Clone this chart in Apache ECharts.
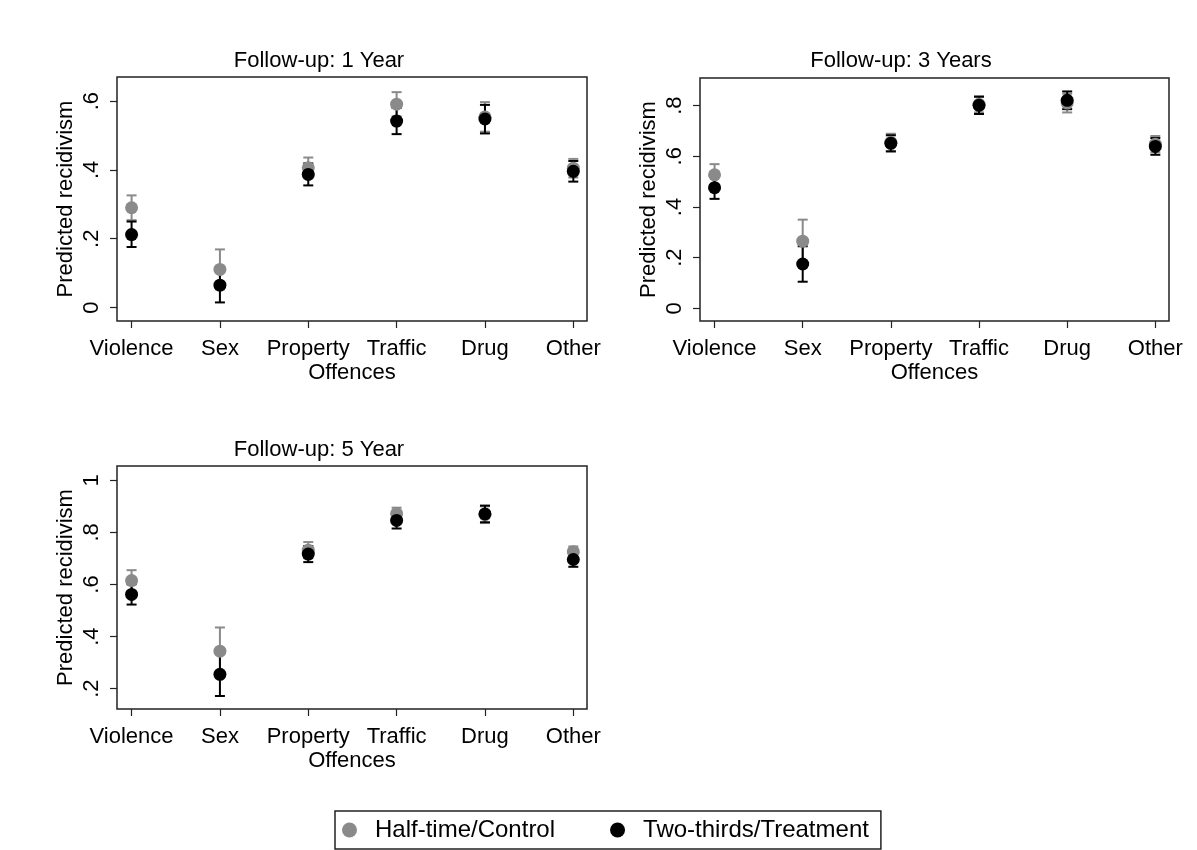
<!DOCTYPE html>
<html>
<head>
<meta charset="utf-8">
<script src="https://cdn.jsdelivr.net/npm/echarts@6/dist/echarts.min.js"></script>
<style>
  html, body { margin: 0; padding: 0; background: #fff; }
  #chart { width: 1197px; height: 850px; }
</style>
</head>
<body>
<div id="chart"></div>
<script>
// offence categories (x axis)
var offences = ['Violence', 'Sex', 'Property', 'Traffic', 'Drug', 'Other'];

// Follow-up: 1 Year
var ctrl1 = [0.290, 0.111, 0.406, 0.591, 0.554, 0.405];
var ctrl1Lo = [0.254, 0.053, 0.376, 0.556, 0.511, 0.378];
var ctrl1Hi = [0.326, 0.169, 0.436, 0.626, 0.597, 0.432];
var treat1 = [0.212, 0.065, 0.387, 0.542, 0.548, 0.396];
var treat1Lo = [0.176, 0.015, 0.355, 0.504, 0.506, 0.366];
var treat1Hi = [0.250, 0.115, 0.419, 0.580, 0.589, 0.426];

// Follow-up: 3 Years
var ctrl3 = [0.527, 0.265, 0.655, 0.805, 0.810, 0.648];
var ctrl3Lo = [0.485, 0.180, 0.621, 0.773, 0.773, 0.616];
var ctrl3Hi = [0.569, 0.350, 0.689, 0.837, 0.847, 0.680];
var treat3 = [0.476, 0.175, 0.651, 0.801, 0.821, 0.639];
var treat3Lo = [0.432, 0.105, 0.619, 0.767, 0.786, 0.606];
var treat3Hi = [0.520, 0.245, 0.683, 0.835, 0.856, 0.672];

// Follow-up: 5 Year
var ctrl5 = [0.615, 0.344, 0.732, 0.872, 0.868, 0.726];
var ctrl5Lo = [0.575, 0.253, 0.701, 0.849, 0.836, 0.706];
var ctrl5Hi = [0.655, 0.435, 0.763, 0.895, 0.900, 0.746];
var treat5 = [0.562, 0.255, 0.717, 0.846, 0.871, 0.696];
var treat5Lo = [0.523, 0.172, 0.686, 0.815, 0.839, 0.668];
var treat5Hi = [0.601, 0.338, 0.748, 0.877, 0.903, 0.724];

// y tick labels per panel
var yTicks1 = [0, 0.2, 0.4, 0.6];
var yTicks3 = [0, 0.2, 0.4, 0.6, 0.8];
var yTicks5 = [0.2, 0.4, 0.6, 0.8, 1];

var panelTitles = ['Follow-up: 1 Year', 'Follow-up: 3 Years', 'Follow-up: 5 Year'];
var seriesNames = ['Half-time/Control', 'Two-thirds/Treatment'];

var FONT = 'Liberation Sans, Arial, sans-serif';
var GRAY = '#8a8a8a';
var BLACK = '#000';

var myChart = echarts.init(document.getElementById('chart'));

function fmtTick(v){
	if(v === 0) return '0';
	if(v === 1) return '1';
	return String(+v.toFixed(2)).replace('0.', '.');
}

function xAxisFor(idx){
	return {
		type: 'value', gridIndex: idx, min: 0.835, max: 6.155,
		name: 'Offences', nameLocation: 'middle', nameGap: 41,
		nameTextStyle: {fontFamily: FONT, fontSize: 22, color: '#000'},
		axisLine: {show: false, onZero: false},
		splitLine: {show: false},
		axisTick: {show: true, length: 7, customValues: [1, 2, 3, 4, 5, 6], lineStyle: {color: '#222', width: 1.2}},
		axisLabel: {
			customValues: [1, 2, 3, 4, 5, 6], margin: 17,
			fontFamily: FONT, fontSize: 22, color: '#000',
			formatter: function(v){ return offences[Math.round(v) - 1]; }
		}
	};
}

function yAxisFor(idx, min, max, ticks){
	return {
		type: 'value', gridIndex: idx, min: min, max: max,
		name: 'Predicted recidivism', nameLocation: 'middle', nameGap: 40, nameRotate: 90,
		nameTextStyle: {fontFamily: FONT, fontSize: 22, color: '#000'},
		axisLine: {show: false, onZero: false},
		splitLine: {show: false},
		axisTick: {show: true, length: 7, customValues: ticks, lineStyle: {color: '#222', width: 1.2}},
		axisLabel: {
			customValues: ticks, rotate: 90, margin: 14,
			fontFamily: FONT, fontSize: 22, color: '#000',
			formatter: fmtTick
		}
	};
}

function errBars(idx, lo, hi, color){
	var data = [];
	for(let i = 0; i < offences.length; i++){
		data.push([i + 1, lo[i], hi[i]]);
	}
	return {
		type: 'custom', xAxisIndex: idx, yAxisIndex: idx,
		silent: true,
		renderItem: function(params, api){
			var a = api.coord([api.value(0), api.value(1)]);
			var b = api.coord([api.value(0), api.value(2)]);
			var w = 5;
			var st = {stroke: color, lineWidth: 2};
			return {type: 'group', children: [
				{type: 'line', shape: {x1: a[0], y1: a[1], x2: b[0], y2: b[1]}, style: st},
				{type: 'line', shape: {x1: a[0] - w, y1: a[1], x2: a[0] + w, y2: a[1]}, style: st},
				{type: 'line', shape: {x1: b[0] - w, y1: b[1], x2: b[0] + w, y2: b[1]}, style: st}
			]};
		},
		encode: {x: 0, y: [1, 2]},
		data: data
	};
}

function dots(idx, name, est, color){
	var data = [];
	for(let i = 0; i < offences.length; i++){
		data.push([i + 1, est[i]]);
	}
	return {
		name: name, type: 'scatter', xAxisIndex: idx, yAxisIndex: idx,
		symbol: 'circle', symbolSize: 13,
		itemStyle: {color: color, opacity: 1},
		data: data
	};
}

var gridBox = {show: true, borderColor: '#222', borderWidth: 1.5, outerBoundsMode: 'none'};

var option = {
	backgroundColor: '#fff',
	animation: false,
	title: [
		{text: panelTitles[0], left: 319, top: 50, textAlign: 'center', padding: 0,
			textStyle: {fontFamily: FONT, fontSize: 22, fontWeight: 'normal', color: '#000'}},
		{text: panelTitles[1], left: 901, top: 50, textAlign: 'center', padding: 0,
			textStyle: {fontFamily: FONT, fontSize: 22, fontWeight: 'normal', color: '#000'}},
		{text: panelTitles[2], left: 319, top: 439, textAlign: 'center', padding: 0,
			textStyle: {fontFamily: FONT, fontSize: 22, fontWeight: 'normal', color: '#000'}}
	],
	legend: {
		data: seriesNames,
		left: 335, top: 811,
		orient: 'horizontal',
		padding: [7, 12, 7, 7],
		itemGap: 55,
		itemWidth: 15, itemHeight: 15,
		icon: 'circle',
		borderColor: '#222', borderWidth: 1.5,
		backgroundColor: '#fff',
		selectedMode: false,
		textStyle: {fontFamily: FONT, fontSize: 24, color: '#000', padding: [0, 0, 0, 13]}
	},
	grid: [
		Object.assign({left: 117, top: 77, width: 470, height: 244}, gridBox),
		Object.assign({left: 700, top: 78, width: 469, height: 243}, gridBox),
		Object.assign({left: 117, top: 466, width: 470, height: 243}, gridBox)
	],
	xAxis: [xAxisFor(0), xAxisFor(1), xAxisFor(2)],
	yAxis: [
		yAxisFor(0, -0.039, 0.67, yTicks1),
		yAxisFor(1, -0.05, 0.909, yTicks3),
		yAxisFor(2, 0.122, 1.055, yTicks5)
	],
	series: [
		errBars(0, ctrl1Lo, ctrl1Hi, GRAY), dots(0, seriesNames[0], ctrl1, GRAY),
		errBars(0, treat1Lo, treat1Hi, BLACK), dots(0, seriesNames[1], treat1, BLACK),
		errBars(1, ctrl3Lo, ctrl3Hi, GRAY), dots(1, seriesNames[0], ctrl3, GRAY),
		errBars(1, treat3Lo, treat3Hi, BLACK), dots(1, seriesNames[1], treat3, BLACK),
		errBars(2, ctrl5Lo, ctrl5Hi, GRAY), dots(2, seriesNames[0], ctrl5, GRAY),
		errBars(2, treat5Lo, treat5Hi, BLACK), dots(2, seriesNames[1], treat5, BLACK)
	]
};

myChart.setOption(option);
</script>
</body>
</html>
